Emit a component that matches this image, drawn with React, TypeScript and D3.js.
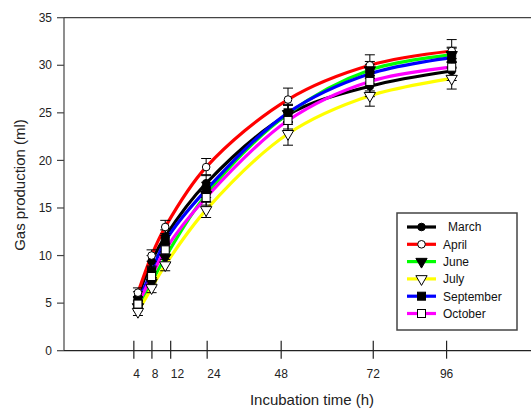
import React from "react";
import * as d3 from "d3";

const hours = [4, 8, 12, 24, 48, 72, 96];
const seriesNames = ["March", "April", "June", "July", "September", "October"];
const march = [5.7, 9.4, 12.0, 17.6, 24.8, 27.8, 29.4];
const april = [6.1, 10.0, 13.0, 19.3, 26.4, 30.0, 31.5];
const june = [4.6, 7.2, 9.8, 16.4, 24.9, 29.5, 31.1];
const july = [4.1, 6.6, 9.0, 14.8, 22.8, 26.8, 28.6];
const september = [5.2, 8.3, 11.5, 16.9, 25.0, 29.1, 30.8];
const october = [4.9, 7.8, 10.6, 16.1, 24.2, 28.3, 29.8];
const marchErr = [0.5, 0.6, 0.7, 0.9, 1.0, 1.1, 1.0];
const aprilErr = [0.5, 0.6, 0.7, 0.9, 1.2, 1.1, 1.2];
const juneErr = [0.4, 0.5, 0.6, 0.7, 0.9, 0.9, 0.8];
const julyErr = [0.4, 0.5, 0.6, 0.8, 1.2, 1.1, 1.1];
const septemberErr = [0.5, 0.6, 0.6, 0.8, 0.9, 1.0, 1.0];
const octoberErr = [0.4, 0.5, 0.6, 0.8, 0.9, 1.0, 0.9];
const yTicks = [0, 5, 10, 15, 20, 25, 30, 35];
const xTickLabels = ["4", "8", "12", "24", "48", "72", "96"];
const xTickHours = [2.8, 8.1, 13.6, 24.3, 46, 73, 94.5];
const xLabelHours = [3.6, 9.0, 15.6, 26.3, 46, 73, 94.5];

const colors = ["#000000", "#ff0000", "#00ff00", "#ffff00", "#0000ff", "#ff00ff"];
const markers = ["circle", "circle", "triangle", "triangle", "square", "square"];
const filled = [true, false, true, false, true, false];
const values = [march, april, june, july, september, october];
const errors = [marchErr, aprilErr, juneErr, julyErr, septemberErr, octoberErr];

const FONT = "'Liberation Sans', Arial, Helvetica, sans-serif";

function Marker({ type, fill, cx, cy }: { type: string; fill: boolean; cx: number; cy: number }) {
  const f = fill ? "#000" : "#fff";
  if (type === "circle") return <circle cx={cx} cy={cy} r={3.8} fill={f} stroke="#000" strokeWidth={1} />;
  if (type === "square") return <rect x={cx - 4} y={cy - 4} width={8} height={8} fill={f} stroke="#000" strokeWidth={1} />;
  const sym = d3.symbol(d3.symbolTriangle, 55)();
  return <path d={sym as string} transform={`translate(${cx},${cy}) rotate(180)`} fill={f} stroke="#000" strokeWidth={1} />;
}

export default function App() {
  const W = 531, H = 408;
  const x = d3.scaleLinear().domain([0, 96]).range([124.3, 451.7]);
  const y = d3.scaleLinear().domain([0, 35]).range([350.7, 17.7]);
  const left = 64;
  const line = d3.line<number>().x((_, i) => x(hours[i])).y((v) => y(v)).curve(d3.curveCatmullRom.alpha(0.5));

  const legX = 397, legY = 213, legW = 120, legH = 117;
  return (
    <svg width={W} height={H} style={{ position: "absolute", left: 0, top: 0, background: "#fff" }} fontFamily={FONT}>
      <rect width={W} height={H} fill="#fff" />
      <line x1={left} x2={W} y1={y(35)} y2={y(35)} stroke="#444" strokeWidth={1.2} />
      <line x1={left} x2={left} y1={y(35)} y2={y(0)} stroke="#444" strokeWidth={1.2} />
      <line x1={left} x2={W} y1={y(0)} y2={y(0)} stroke="#222" strokeWidth={1.2} />
      {yTicks.map((t) => (
        <g key={t}>
          <line x1={left - 7} x2={left} y1={y(t)} y2={y(t)} stroke="#444" strokeWidth={1.2} />
          <text x={52} y={y(t)} dy="0.35em" textAnchor="end" fontSize={12} fill="#222">{t}</text>
        </g>
      ))}
      {xTickHours.map((h, i) => (
        <g key={i}>
          <line x1={x(h)} x2={x(h)} y1={y(0) - 10} y2={y(0) + 8} stroke="#222" strokeWidth={1.2} />
          <text x={x(xLabelHours[i])} y={378} textAnchor="middle" fontSize={12} fill="#222">{xTickLabels[i]}</text>
        </g>
      ))}
      <text x={312} y={405} textAnchor="middle" fontSize={15} fill="#222">Incubation time (h)</text>
      <text transform={`translate(25,185) rotate(-90)`} textAnchor="middle" fontSize={15} fill="#222">Gas production (ml)</text>

      {values.map((vals, s) => (
        <path key={s} d={line(vals) as string} fill="none" stroke={colors[s]} strokeWidth={3.2} />
      ))}
      {values.map((vals, s) =>
        vals.map((v, i) => {
          const e = errors[s][i];
          const cx = x(hours[i]);
          return (
            <g key={`e${s}-${i}`} stroke="#000" strokeWidth={1}>
              <line x1={cx} x2={cx} y1={y(v + e)} y2={y(v - e)} />
              <line x1={cx - 5} x2={cx + 5} y1={y(v + e)} y2={y(v + e)} />
              <line x1={cx - 5} x2={cx + 5} y1={y(v - e)} y2={y(v - e)} />
            </g>
          );
        })
      )}
      {values.map((vals, s) =>
        vals.map((v, i) => <Marker key={`m${s}-${i}`} type={markers[s]} fill={filled[s]} cx={x(hours[i])} cy={y(v)} />)
      )}

      <rect x={legX} y={legY} width={legW} height={legH} fill="#fff" stroke="#444" strokeWidth={1.5} />
      {seriesNames.map((n, i) => {
        const ry = legY + 14 + i * 17.3;
        return (
          <g key={n}>
            <line x1={407} x2={436} y1={ry} y2={ry} stroke={colors[i]} strokeWidth={3.2} />
            <Marker type={markers[i]} fill={filled[i]} cx={421.5} cy={ry} />
            <text x={i === 0 ? 448 : 443} y={ry} dy="0.36em" fontSize={12} fill="#111">{n}</text>
          </g>
        );
      })}
    </svg>
  );
}
